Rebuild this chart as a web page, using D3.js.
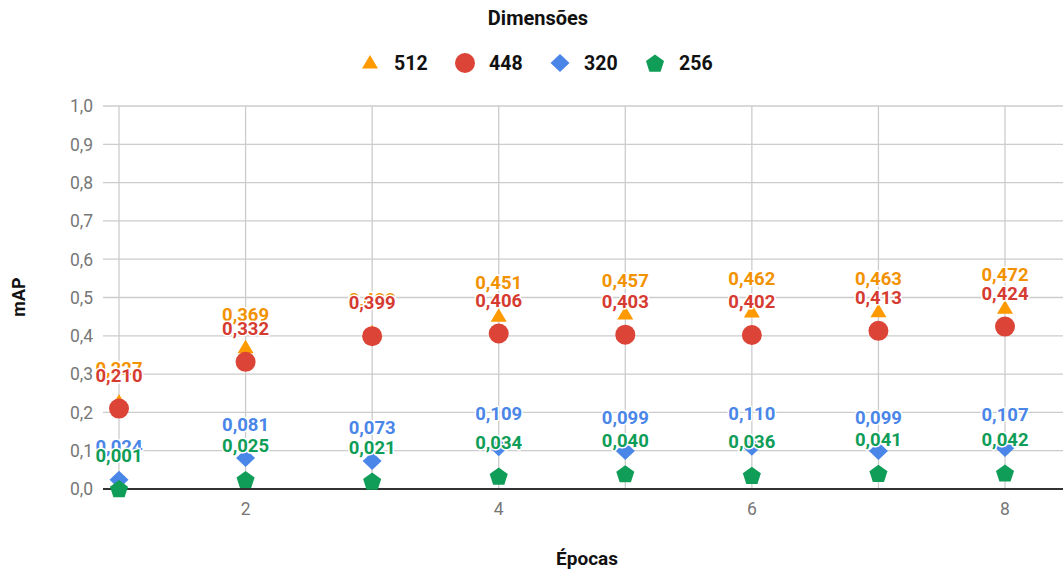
<!DOCTYPE html>
<html><head><meta charset="utf-8">
<script src="https://cdnjs.cloudflare.com/ajax/libs/d3/7.8.5/d3.min.js"></script>
<style>body{margin:0;background:#fff}svg{display:block;font-family:Roboto,"Noto Sans",sans-serif}</style>
</head><body><svg id="c" width="1063" height="572"></svg>
<script>
const epochs = [1,2,3,4,5,6,7,8];
const seriesNames = ["512","448","320","256"];
const s512 = [0.227,0.369,0.408,0.451,0.457,0.462,0.463,0.472];
const s448 = [0.210,0.332,0.399,0.406,0.403,0.402,0.413,0.424];
const s320 = [0.024,0.081,0.073,0.109,0.099,0.110,0.099,0.107];
const s256 = [0.001,0.025,0.021,0.034,0.040,0.036,0.041,0.042];
const yTicks = [0,0.1,0.2,0.3,0.4,0.5,0.6,0.7,0.8,0.9,1.0];
const xTickLabels = [2,4,6,8];
const colors = ["#ff9900","#dc4437","#4a86e8","#0f9d58"];
const labelColors = ["#f29200","#d63b31","#4a86e8","#0f9d58"];
const allSeries = [s512,s448,s320,s256];

const svg = d3.select("#c");
const x = d3.scaleLinear().domain([1,8]).range([119,1005]);
const y = d3.scaleLinear().domain([0,1]).range([489,106]);
const fmt = v => d3.format(".3f")(v).replace(".",",");
const fmt1 = v => d3.format(".1f")(v).replace(".",",");

const tri = {draw(ctx,s){ctx.moveTo(0,-8);ctx.lineTo(8,5.5);ctx.lineTo(-8,5.5);ctx.closePath();}};
const circ = {draw(ctx,s){ctx.moveTo(10,0);ctx.arc(0,0,10,0,2*Math.PI);}};
const dia = {draw(ctx,s){ctx.moveTo(0,-9);ctx.lineTo(9.5,0);ctx.lineTo(0,9);ctx.lineTo(-9.5,0);ctx.closePath();}};
const pent = {draw(ctx,s){const r=9.5;for(let i=0;i<5;i++){const a=-Math.PI/2+i*2*Math.PI/5;const px=r*Math.cos(a),py=r*Math.sin(a)+1;if(i===0)ctx.moveTo(px,py);else ctx.lineTo(px,py);}ctx.closePath();}};
const shapes = [tri,circ,dia,pent];

const g = svg.append("g");
g.selectAll("line.h").data(yTicks).join("line")
 .attr("x1",103).attr("x2",1063).attr("y1",d=>y(d)).attr("y2",d=>y(d))
 .attr("stroke","#cccccc").attr("stroke-width",1.3);
g.selectAll("line.v").data(epochs).join("line")
 .attr("x1",d=>x(d)).attr("x2",d=>x(d)).attr("y1",y(1)).attr("y2",y(0))
 .attr("stroke","#cccccc").attr("stroke-width",1.3);
svg.append("line").attr("x1",103).attr("x2",1063).attr("y1",y(0)).attr("y2",y(0))
 .attr("stroke","#333").attr("stroke-width",2);

svg.selectAll("text.yt").data(yTicks).join("text")
 .attr("x",93).attr("y",d=>y(d)).attr("dy","0.36em").attr("text-anchor","end")
 .attr("font-size",17.5).attr("fill","#777").text(fmt1);
svg.selectAll("text.xt").data(xTickLabels).join("text")
 .attr("x",d=>x(d)).attr("y",515).attr("text-anchor","middle")
 .attr("font-size",17.5).attr("fill","#777").text(d=>d);

allSeries.forEach((s,i)=>{
  svg.append("g").selectAll("path").data(s).join("path")
   .attr("d",d3.symbol().type(shapes[i]))
   .attr("transform",(d,j)=>`translate(${x(epochs[j])},${y(d)})`)
   .attr("fill",colors[i]);
});
allSeries.forEach((s,i)=>{
  svg.append("g").selectAll("text").data(s).join("text")
   .attr("x",(d,j)=>x(epochs[j])).attr("y",d=>y(d)-27)
   .attr("text-anchor","middle").attr("font-size",18.5).attr("font-weight","bold")
   .attr("fill",labelColors[i]).attr("stroke","#fff").attr("stroke-width",3)
   .attr("paint-order","stroke").attr("stroke-linejoin","round").text(fmt);
});

svg.append("text").attr("x",538).attr("y",25).attr("text-anchor","middle")
 .attr("font-size",20).attr("font-weight","bold").attr("fill","#111").text("Dimensões");
const legX = [370,465,560,655];
const leg = svg.append("g");
seriesNames.forEach((n,i)=>{
  leg.append("path").attr("d",d3.symbol().type(shapes[i])).attr("transform",`translate(${legX[i]},63)`).attr("fill",colors[i]);
  leg.append("text").attr("x",legX[i]+24).attr("y",63).attr("dy","0.36em")
   .attr("font-size",19.5).attr("font-weight","bold").attr("fill","#111").text(n);
});
svg.append("text").attr("transform","translate(25,297) rotate(-90)").attr("text-anchor","middle")
 .attr("font-size",18).attr("font-weight","bold").attr("fill","#111").text("mAP");
svg.append("text").attr("x",587).attr("y",565).attr("text-anchor","middle")
 .attr("font-size",19).attr("font-weight","bold").attr("fill","#111").text("Épocas");
</script></body></html>
